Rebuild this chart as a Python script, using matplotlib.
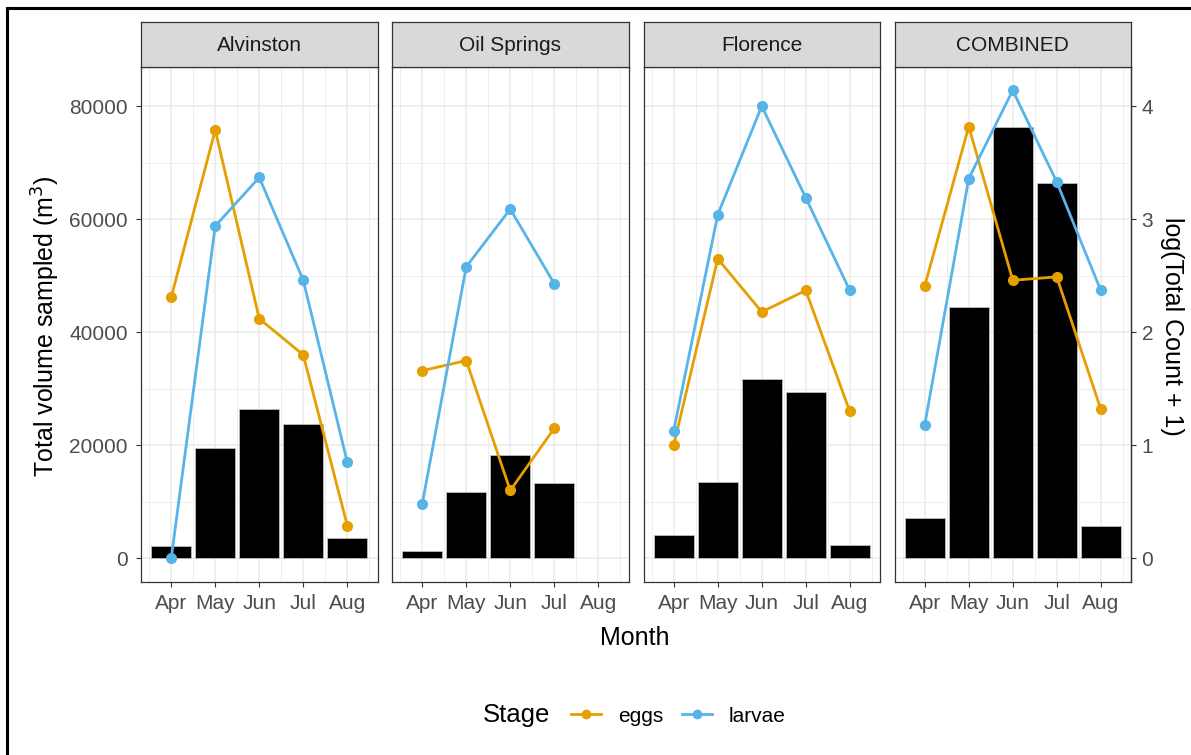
import numpy as np
import matplotlib.pyplot as plt
from matplotlib.lines import Line2D

plt.rcParams['font.family'] = ['Liberation Sans', 'DejaVu Sans']

months = ['Apr', 'May', 'Jun', 'Jul', 'Aug']
sites = ['Alvinston', 'Oil Springs', 'Florence', 'COMBINED']

# total volume sampled per month (m^3)
volume = {
    'Alvinston':   [2200, 19600, 26500, 23700, 3600],
    'Oil Springs': [1300, 11700, 18300, 13300, np.nan],
    'Florence':    [4200, 13500, 31800, 29400, 2400],
    'COMBINED':    [7200, 44500, 76300, 66400, 5700],
}

# log(total count + 1)
eggs = {
    'Alvinston':   [2.31, 3.79, 2.12, 1.80, 0.29],
    'Oil Springs': [1.66, 1.75, 0.60, 1.15, np.nan],
    'Florence':    [1.00, 2.65, 2.18, 2.37, 1.30],
    'COMBINED':    [2.41, 3.82, 2.46, 2.49, 1.32],
}
larvae = {
    'Alvinston':   [0.00, 2.94, 3.37, 2.46, 0.85],
    'Oil Springs': [0.48, 2.58, 3.09, 2.43, np.nan],
    'Florence':    [1.13, 3.04, 4.00, 3.19, 2.37],
    'COMBINED':    [1.18, 3.36, 4.14, 3.33, 2.37],
}

scale = 20000  # secondary axis factor
egg_col = '#E69F00'
larv_col = '#56B4E9'
grid_col = '#EBEBEB'
tick_col = '#4D4D4D'
frame_col = '#333333'

W, H = 1191, 755
fig = plt.figure(figsize=(W / 100, H / 100), dpi=100)

x = np.arange(1, 6)
lefts = [141, 392, 643.5, 894.5]
pw = 236.5
ptop, pbot = 67, 581.7
strip_top = 22

axes = []
for i, site in enumerate(sites):
    ax = fig.add_axes([lefts[i] / W, 1 - pbot / H, pw / W, (pbot - ptop) / H])
    axes.append(ax)
    ax.set_xlim(0.313, 5.687)
    ax.set_ylim(-4140, 86940)
    ax.set_xticks(x)
    ax.set_xticks(np.arange(0.5, 6, 1), minor=True)
    ax.set_yticks(np.arange(0, 80001, 20000))
    ax.set_yticks(np.arange(10000, 80001, 20000), minor=True)
    ax.grid(True, which='major', color=grid_col, lw=1.1, zorder=0)
    ax.grid(True, which='minor', color=grid_col, lw=0.6, zorder=0)
    ax.set_axisbelow(True)
    ax.set_xticklabels(months)
    ax.tick_params(which='major', length=3.6, width=0.8, color=frame_col,
                   labelsize=15, labelcolor=tick_col)
    ax.tick_params(axis='x', which='major', pad=5.5)
    ax.tick_params(axis='y', which='major', pad=6)
    ax.tick_params(which='minor', length=0)
    if i == 0:
        ax.set_yticklabels([str(v) for v in range(0, 80001, 20000)])
    else:
        ax.tick_params(axis='y', which='major', left=False, labelleft=False)
    for s in ax.spines.values():
        s.set_color(frame_col)
        s.set_linewidth(0.9)

    ax.bar(x, volume[site], width=0.9, color='black', edgecolor='#BDBDBD',
           linewidth=0.6, zorder=2)
    ax.plot(x, np.array(eggs[site]) * scale, color=egg_col, lw=2,
            marker='o', ms=7, zorder=3)
    ax.plot(x, np.array(larvae[site]) * scale, color=larv_col, lw=2,
            marker='o', ms=7, zorder=4)

    # facet strip
    sax = fig.add_axes([lefts[i] / W, 1 - ptop / H, pw / W, (ptop - strip_top) / H])
    sax.set_facecolor('#D9D9D9')
    sax.set_xticks([])
    sax.set_yticks([])
    for s in sax.spines.values():
        s.set_color(frame_col)
        s.set_linewidth(0.9)
    sax.text(0.5, 0.48, site, ha='center', va='center', fontsize=15,
             color='#1A1A1A', transform=sax.transAxes)

# secondary axis on the last panel
sec = axes[-1].secondary_yaxis('right', functions=(lambda v: v / scale, lambda v: v * scale))
sec.set_yticks([0, 1, 2, 3, 4])
sec.tick_params(length=3.6, width=0.8, color=frame_col, labelsize=15,
                labelcolor=tick_col, pad=4)
sec.spines['right'].set_color(frame_col)
sec.spines['right'].set_linewidth(0.9)

fig.text(46 / W, 1 - 326 / H, 'Total volume sampled (m$^3$)', rotation=90,
         ha='center', va='center', fontsize=18)
fig.text(1172 / W, 1 - 326 / H, 'log(Total Count + 1)', rotation=270,
         ha='center', va='center', fontsize=18)
fig.text(635 / W, 1 - 638 / H, 'Month', ha='center', va='center', fontsize=18)

# legend
fig.text(483 / W, 1 - 715 / H, 'Stage', ha='left', va='center', fontsize=18.5)
handles = [Line2D([0], [0], color=egg_col, lw=2, marker='o', ms=6),
           Line2D([0], [0], color=larv_col, lw=2, marker='o', ms=6)]
fig.legend(handles, ['eggs', 'larvae'], loc='center left',
           bbox_to_anchor=(571 / W, 1 - 716 / H), ncol=2, frameon=False,
           fontsize=15, handlelength=1.45, handletextpad=0.8,
           columnspacing=0.9, borderpad=0, borderaxespad=0)

# outer border lines (top and left)
fig.add_artist(Line2D([7 / W, 1], [1 - 7.5 / H, 1 - 7.5 / H], color='black', lw=2.2))
fig.add_artist(Line2D([7 / W, 7 / W], [0, 1 - 7.5 / H], color='black', lw=2.2))

fig.savefig('out.png', dpi=100)
